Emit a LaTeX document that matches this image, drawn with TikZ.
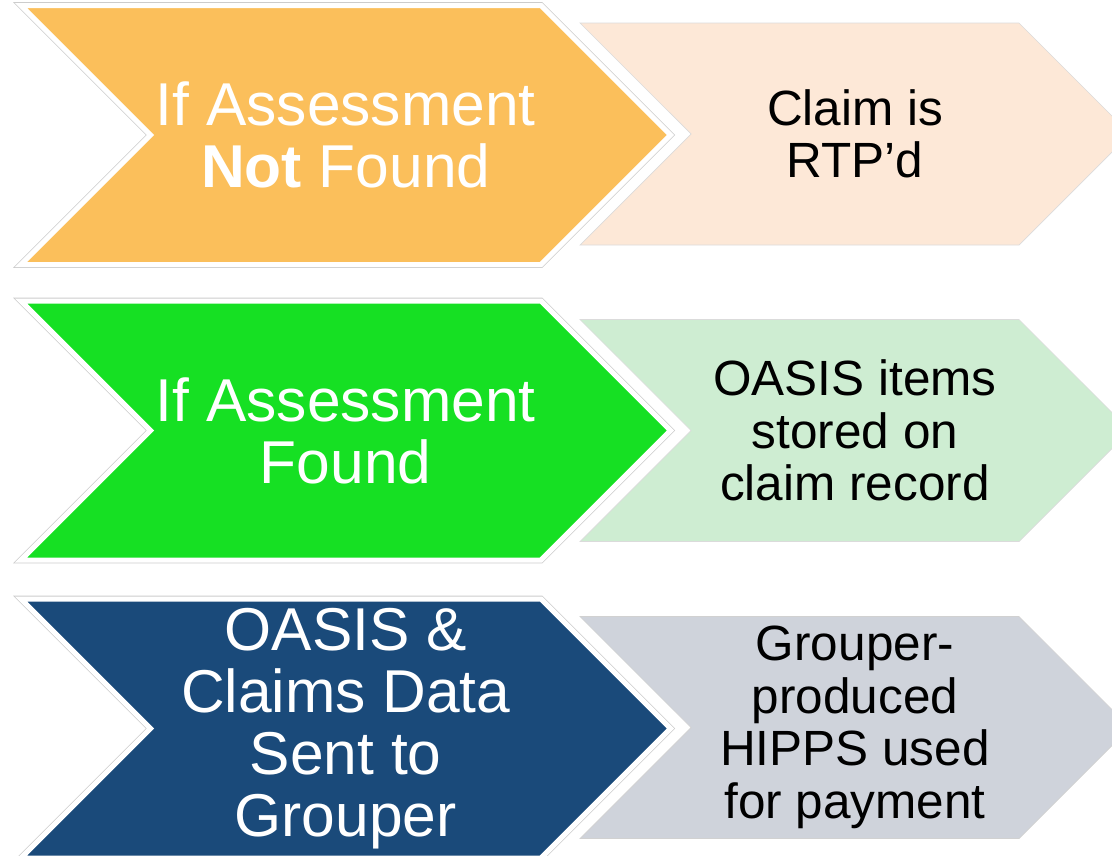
\documentclass[tikz,border=0pt]{standalone}
\usepackage{fontspec}
\setmainfont{Liberation Sans}
\usepackage{tikz}
\usetikzlibrary{shapes.symbols}

\definecolor{stageorange}{HTML}{FBBF5B}
\definecolor{resultpeach}{HTML}{FDE8D7}
\definecolor{stagegreen}{HTML}{16E023}
\definecolor{resultgreen}{HTML}{CEEDD2}
\definecolor{stagenavy}{HTML}{1A4A7A}
\definecolor{resultgray}{HTML}{CFD3DB}

\newcommand{\stagefont}{\fontsize{60.5}{62}\selectfont}
\newcommand{\resultfont}{\fontsize{49.5}{52.5}\selectfont}

\begin{document}
\begin{tikzpicture}[x=1pt,y=-1pt]
	\tikzstyle{stagechev} = [signal, signal from=west, signal to=east, signal pointer angle=90, inner sep=0pt, minimum width=649.5pt, minimum height=259pt, draw=white, line width=5pt, preaction={draw=black!20, line width=6.6pt}, text=white, align=center, font=\stagefont]
	\tikzstyle{resultchev} = [signal, signal from=west, signal to=east, signal pointer angle=90, inner sep=0pt, minimum width=550pt, minimum height=222pt, line width=0.7pt, text=black, align=center, font=\resultfont]

	\useasboundingbox (0,0) rectangle (1112,855);
	\clip (0,0) rectangle (1112,855);

	% row 1: assessment not found
	\node [stagechev, fill=stageorange] (notfound) at (345.75,135) {If Assessment\\\textbf{Not} Found};
	\node [resultchev, fill=resultpeach, draw=black!14] (rtpd) at (855,134) {Claim is\\RTP’d};

	% row 2: assessment found
	\node [stagechev, fill=stagegreen] (found) at (345.75,430.5) {If Assessment\\Found};
	\node [resultchev, fill=resultgreen, draw=black!14] (stored) at (855,430.5) {OASIS items\\stored on\\claim record};

	% row 3: sent to grouper
	\node [stagechev, fill=stagenavy] (grouper) at (345.75,728.5) {OASIS \&\\Claims Data\\Sent to\\Grouper};
	\node [resultchev, fill=resultgray, draw=black!18] (hipps) at (855,727.5) {Grouper-\\produced\\HIPPS used\\for payment};
\end{tikzpicture}
\end{document}
